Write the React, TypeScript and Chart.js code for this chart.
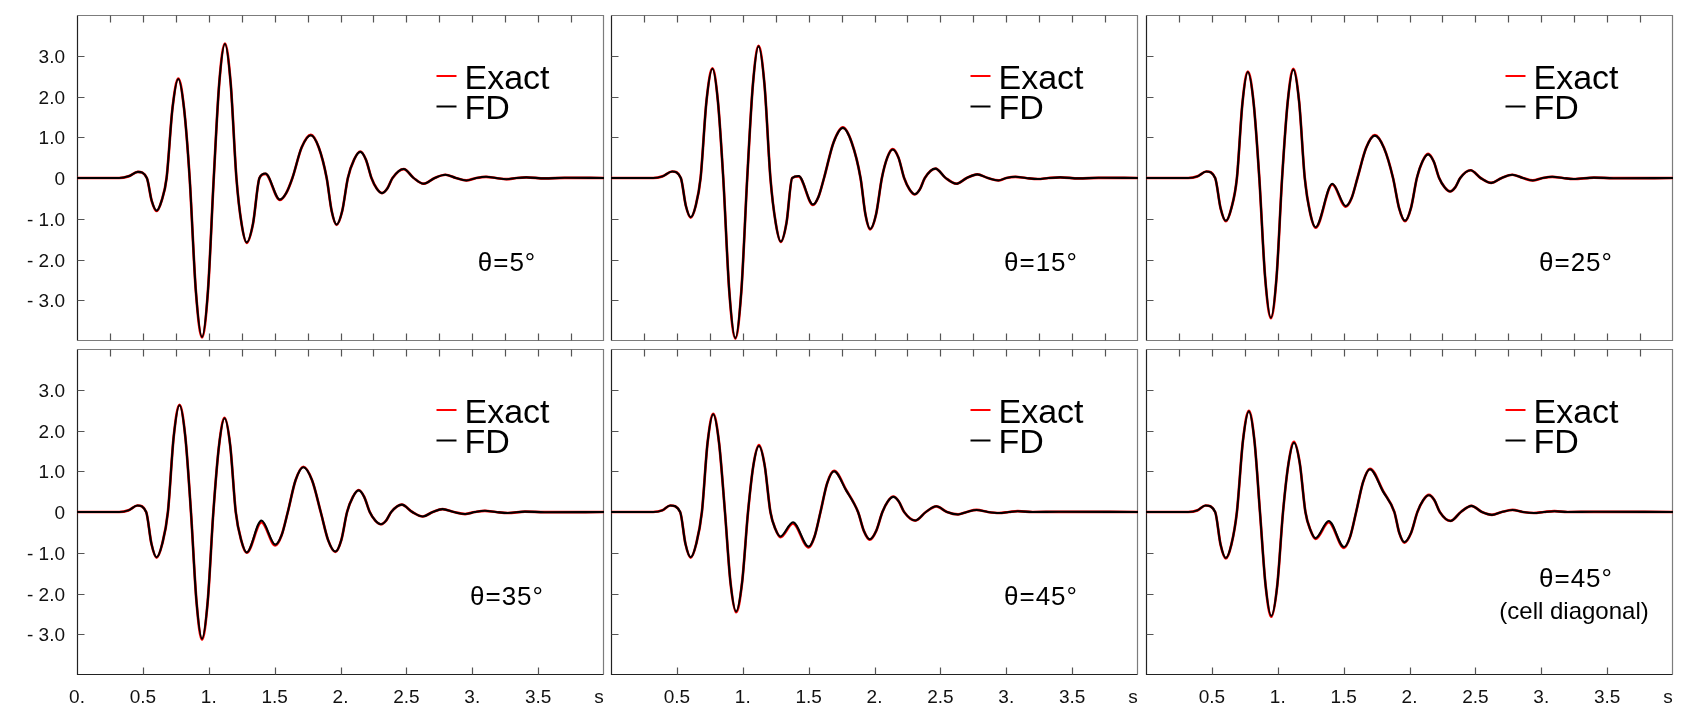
import React, { useEffect, useRef } from "react";
import { Chart, registerables } from "chart.js";
Chart.register(...registerables);

// ---------- tick labels / texts ----------
const xTickValues = [0, 0.5, 1, 1.5, 2, 2.5, 3, 3.5, 4];
const xTickLabels = ["0.", "0.5", "1.", "1.5", "2.", "2.5", "3.", "3.5", "s"];
const yTickValues = [3, 2, 1, 0, -1, -2, -3];
const yTickLabels = ["3.0", "2.0", "1.0", "0", "- 1.0", "- 2.0", "- 3.0"];
const seriesNames = ["Exact", "FD"];
const angleLabels = ["θ=5°", "θ=15°", "θ=25°", "θ=35°", "θ=45°", "θ=45°"];
const angleSubLabels = ["", "", "", "", "", "(cell diagonal)"];

// ---------- data (time in s, amplitude) ----------
const t5 = [0, 0.32, 0.39, 0.462, 0.53, 0.567, 0.604, 0.642, 0.68, 0.725, 0.769, 0.812, 0.855, 0.902, 0.949, 0.994, 1.038, 1.08, 1.123, 1.166, 1.21, 1.249, 1.288, 1.336, 1.385, 1.43, 1.54, 1.588, 1.635, 1.705, 1.775, 1.835, 1.895, 1.933, 1.97, 2.013, 2.056, 2.103, 2.15, 2.193, 2.235, 2.275, 2.315, 2.355, 2.395, 2.48, 2.555, 2.63, 2.715, 2.796, 2.875, 2.955, 3.03, 3.105, 3.18, 3.26, 3.335, 3.41, 3.55, 3.7, 4.0];
const fd5 = [0, 0, 0.04, 0.15, 0, -0.56, -0.8, -0.56, 0, 1.72, 2.43, 1.72, 0, -2.77, -3.9, -2.77, 0, 2.34, 3.29, 2.34, 0, -1.12, -1.58, -1.12, 0, 0.11, -0.53, -0.37, 0, 0.75, 1.05, 0.75, 0, -0.81, -1.14, -0.81, 0, 0.45, 0.64, 0.45, 0, -0.26, -0.37, -0.26, 0, 0.22, 0, -0.14, 0, 0.08, 0, -0.06, 0, 0.03, 0, -0.03, 0, 0.015, -0.01, 0.005, 0];
const exact5 = [0, 0, 0.04, 0.15, 0, -0.56, -0.81, -0.56, 0, 1.72, 2.44, 1.72, 0, -2.77, -3.91, -2.77, 0, 2.34, 3.3, 2.34, 0, -1.12, -1.59, -1.12, 0, 0.1, -0.54, -0.37, 0, 0.75, 1.06, 0.75, 0, -0.81, -1.15, -0.81, 0, 0.45, 0.65, 0.45, 0, -0.26, -0.37, -0.26, 0, 0.22, 0, -0.14, 0, 0.08, 0, -0.06, 0, 0.03, 0, -0.03, 0, 0.015, -0.01, 0.005, 0];

const t15 = [0, 0.32, 0.39, 0.464, 0.53, 0.568, 0.605, 0.643, 0.68, 0.725, 0.77, 0.811, 0.852, 0.898, 0.944, 0.989, 1.034, 1.077, 1.12, 1.165, 1.21, 1.25, 1.289, 1.332, 1.375, 1.424, 1.533, 1.575, 1.617, 1.689, 1.76, 1.827, 1.894, 1.931, 1.967, 2.012, 2.056, 2.097, 2.138, 2.182, 2.225, 2.266, 2.306, 2.344, 2.382, 2.463, 2.54, 2.62, 2.7, 2.78, 2.86, 2.94, 3.0, 3.07, 3.15, 3.24, 3.32, 3.41, 3.55, 3.7, 4.0];
const fd15 = [0, 0, 0.04, 0.16, 0, -0.68, -0.96, -0.68, 0, 1.9, 2.68, 1.9, 0, -2.79, -3.93, -2.79, 0, 2.29, 3.23, 2.29, 0, -1.1, -1.56, -1.1, 0, 0.05, -0.65, -0.46, 0, 0.87, 1.23, 0.87, 0, -0.89, -1.25, -0.89, 0, 0.5, 0.7, 0.5, 0, -0.28, -0.4, -0.28, 0, 0.23, 0, -0.14, 0, 0.09, 0, -0.06, 0, 0.03, 0, -0.025, 0, 0.015, -0.01, 0.005, 0];
const exact15 = [0, 0, 0.04, 0.16, 0, -0.68, -0.97, -0.68, 0, 1.9, 2.69, 1.9, 0, -2.79, -3.94, -2.79, 0, 2.29, 3.24, 2.29, 0, -1.1, -1.57, -1.1, 0, 0.04, -0.66, -0.46, 0, 0.87, 1.24, 0.87, 0, -0.89, -1.26, -0.89, 0, 0.5, 0.71, 0.5, 0, -0.28, -0.4, -0.28, 0, 0.23, 0, -0.14, 0, 0.09, 0, -0.06, 0, 0.03, 0, -0.025, 0, 0.015, -0.01, 0.005, 0];

const t25 = [0, 0.32, 0.39, 0.458, 0.525, 0.566, 0.606, 0.648, 0.69, 0.732, 0.773, 0.817, 0.86, 0.904, 0.948, 0.991, 1.033, 1.076, 1.118, 1.162, 1.205, 1.246, 1.287, 1.414, 1.516, 1.561, 1.605, 1.671, 1.737, 1.806, 1.875, 1.921, 1.966, 2.011, 2.056, 2.099, 2.141, 2.183, 2.225, 2.267, 2.308, 2.347, 2.385, 2.464, 2.54, 2.62, 2.7, 2.78, 2.86, 2.936, 3.01, 3.084, 3.165, 3.245, 3.4, 3.55, 4.0];
const fd25 = [0, 0, 0.04, 0.16, 0, -0.74, -1.05, -0.74, 0, 1.84, 2.6, 1.84, 0, -2.43, -3.43, -2.43, 0, 1.88, 2.66, 1.88, 0, -0.86, -1.21, -0.14, -0.69, -0.49, 0, 0.74, 1.04, 0.74, 0, -0.74, -1.05, -0.74, 0, 0.41, 0.58, 0.41, 0, -0.23, -0.33, -0.23, 0, 0.19, 0, -0.12, 0, 0.08, 0, -0.06, 0, 0.03, 0, -0.025, 0.01, -0.005, 0];
const exact25 = [0, 0, 0.04, 0.16, 0, -0.74, -1.06, -0.74, 0, 1.84, 2.61, 1.84, 0, -2.43, -3.44, -2.43, 0, 1.88, 2.68, 1.88, 0, -0.86, -1.22, -0.16, -0.7, -0.49, 0, 0.74, 1.05, 0.74, 0, -0.74, -1.06, -0.74, 0, 0.41, 0.59, 0.41, 0, -0.23, -0.33, -0.23, 0, 0.19, 0, -0.12, 0, 0.08, 0, -0.06, 0, 0.03, 0, -0.025, 0.01, -0.005, 0];

const t35 = [0, 0.32, 0.39, 0.459, 0.525, 0.565, 0.604, 0.647, 0.69, 0.734, 0.778, 0.822, 0.865, 0.907, 0.949, 0.992, 1.035, 1.078, 1.12, 1.163, 1.205, 1.247, 1.288, 1.4, 1.505, 1.553, 1.6, 1.659, 1.718, 1.784, 1.85, 1.906, 1.961, 2.006, 2.05, 2.094, 2.138, 2.18, 2.222, 2.264, 2.306, 2.346, 2.385, 2.465, 2.545, 2.625, 2.7, 2.775, 2.86, 2.946, 3.02, 3.096, 3.18, 3.27, 3.4, 3.55, 4.0];
const fd35 = [0, 0, 0.04, 0.16, 0, -0.78, -1.11, -0.78, 0, 1.85, 2.62, 1.85, 0, -2.2, -3.11, -2.2, 0, 1.63, 2.3, 1.63, 0, -0.7, -0.99, -0.21, -0.8, -0.57, 0, 0.78, 1.1, 0.78, 0, -0.69, -0.97, -0.69, 0, 0.37, 0.53, 0.37, 0, -0.21, -0.3, -0.21, 0, 0.18, 0, -0.11, 0, 0.07, 0, -0.05, 0, 0.03, 0, -0.025, 0.01, -0.005, 0];
const exact35 = [0, 0, 0.04, 0.16, 0, -0.78, -1.12, -0.78, 0, 1.85, 2.63, 1.85, 0, -2.2, -3.13, -2.2, 0, 1.63, 2.31, 1.63, 0, -0.7, -1.0, -0.25, -0.82, -0.57, 0, 0.78, 1.11, 0.78, 0, -0.69, -0.98, -0.69, 0, 0.37, 0.54, 0.37, 0, -0.21, -0.3, -0.21, 0, 0.18, 0, -0.11, 0, 0.07, 0, -0.05, 0, 0.03, 0, -0.025, 0.01, -0.005, 0];

const t45 = [0, 0.32, 0.39, 0.45, 0.525, 0.565, 0.605, 0.647, 0.69, 0.733, 0.776, 0.82, 0.865, 0.907, 0.95, 0.995, 1.04, 1.081, 1.123, 1.166, 1.21, 1.248, 1.286, 1.381, 1.5, 1.545, 1.59, 1.641, 1.693, 1.785, 1.875, 1.92, 1.964, 2.012, 2.06, 2.101, 2.143, 2.184, 2.225, 2.309, 2.39, 2.469, 2.55, 2.634, 2.7, 2.775, 2.86, 2.946, 3.02, 3.087, 3.2, 3.4, 4.0];
const fd45 = [0, 0, 0.04, 0.16, 0, -0.78, -1.11, -0.78, 0, 1.7, 2.4, 1.7, 0, -1.73, -2.44, -1.73, 0, 1.15, 1.62, 1.15, 0, -0.42, -0.6, -0.25, -0.85, -0.6, 0, 0.71, 1.0, 0.53, 0, -0.47, -0.67, -0.47, 0, 0.26, 0.37, 0.26, 0, -0.21, 0, 0.14, 0, -0.06, 0, 0.05, 0, -0.025, 0, 0.02, 0, 0.005, 0];
const exact45 = [0, 0, 0.04, 0.16, 0, -0.78, -1.12, -0.78, 0, 1.7, 2.41, 1.7, 0, -1.73, -2.46, -1.73, 0, 1.15, 1.64, 1.15, 0, -0.42, -0.62, -0.28, -0.87, -0.6, 0, 0.71, 1.01, 0.54, 0, -0.47, -0.68, -0.47, 0, 0.26, 0.38, 0.26, 0, -0.21, 0, 0.14, 0, -0.06, 0, 0.05, 0, -0.025, 0, 0.02, 0, 0.005, 0];

const t45d = [0, 0.32, 0.39, 0.452, 0.525, 0.566, 0.606, 0.648, 0.69, 0.736, 0.781, 0.823, 0.865, 0.908, 0.951, 0.996, 1.04, 1.082, 1.123, 1.167, 1.21, 1.249, 1.287, 1.387, 1.503, 1.549, 1.595, 1.648, 1.7, 1.8, 1.885, 1.923, 1.961, 2.011, 2.06, 2.104, 2.147, 2.189, 2.23, 2.311, 2.39, 2.47, 2.55, 2.626, 2.7, 2.782, 2.86, 2.944, 3.02, 3.1, 3.2, 3.4, 4.0];
const fd45d = [0, 0, 0.04, 0.16, 0, -0.8, -1.13, -0.8, 0, 1.75, 2.47, 1.75, 0, -1.81, -2.55, -1.81, 0, 1.2, 1.7, 1.2, 0, -0.45, -0.64, -0.22, -0.86, -0.61, 0, 0.74, 1.05, 0.5, 0, -0.52, -0.74, -0.52, 0, 0.29, 0.41, 0.29, 0, -0.22, 0, 0.15, 0, -0.07, 0, 0.05, 0, -0.025, 0, 0.02, 0, 0.005, 0];
const exact45d = [0, 0, 0.04, 0.16, 0, -0.8, -1.14, -0.8, 0, 1.75, 2.48, 1.75, 0, -1.81, -2.57, -1.81, 0, 1.2, 1.72, 1.2, 0, -0.45, -0.66, -0.25, -0.88, -0.61, 0, 0.74, 1.06, 0.51, 0, -0.52, -0.75, -0.52, 0, 0.29, 0.42, 0.29, 0, -0.22, 0, 0.15, 0, -0.07, 0, 0.05, 0, -0.025, 0, 0.02, 0, 0.005, 0];

const panelTimes = [t5, t15, t25, t35, t45, t45d];
const panelFD = [fd5, fd15, fd25, fd35, fd45, fd45d];
const panelExact = [exact5, exact15, exact25, exact35, exact45, exact45d];

// ---------- layout ----------
const PANEL_LEFT = [77, 611, 1146];
const PANEL_TOP = [15, 349];
const PANEL_W = 527;
const PANEL_H = 326;
const PAD = { left: 77, top: 15, right: 12, bottom: 37 };
const FONT = '"Liberation Sans", Arial, sans-serif';

function Panel({ index }: { index: number }) {
  const ref = useRef<HTMLCanvasElement | null>(null);
  const col = index % 3;
  const row = Math.floor(index / 3);
  const cw = PANEL_W + PAD.left + PAD.right;
  const ch = PANEL_H + PAD.top + PAD.bottom;

  useEffect(() => {
    const canvas = ref.current;
    if (!canvas) return;
    const t = panelTimes[index];
    const fd = panelFD[index];
    const ex = panelExact[index];

    const framePlugin = {
      id: "frame" + index,
      beforeDatasetsDraw(chart: any) {
        const { ctx, chartArea } = chart;
        const xs = chart.scales.x;
        const ys = chart.scales.y;
        const L = Math.round(chartArea.left) + 0.5;
        const R = Math.round(chartArea.right) - 0.5;
        const T = Math.round(chartArea.top) + 0.5;
        const B = Math.round(chartArea.bottom) - 0.5;
        ctx.save();
        ctx.lineWidth = 1.2;
        ctx.strokeStyle = "#7c7c7c";
        ctx.beginPath();
        ctx.moveTo(L, T); ctx.lineTo(R, T); ctx.lineTo(R, B);
        if (row === 0) ctx.lineTo(L, B);
        ctx.stroke();
        ctx.strokeStyle = "#222";
        ctx.beginPath();
        ctx.moveTo(L, T); ctx.lineTo(L, B);
        if (row === 1) ctx.lineTo(R, B);
        ctx.stroke();
        const tl = 7;
        ctx.strokeStyle = "#555";
        ctx.lineWidth = 1.2;
        ctx.beginPath();
        xs.ticks.forEach((tk: any) => {
          if (tk.value <= 0 || tk.value >= 4) return;
          const px = Math.round(xs.getPixelForValue(tk.value)) + 0.5;
          ctx.moveTo(px, T); ctx.lineTo(px, T + tl);
          const major = xTickValues.indexOf(tk.value) >= 0;
          if (row === 0 || major) {
            ctx.moveTo(px, B); ctx.lineTo(px, B - tl);
          }
        });
        yTickValues.forEach((v) => {
          const py = Math.round(ys.getPixelForValue(v)) + 0.5;
          ctx.moveTo(L, py); ctx.lineTo(L + tl, py);
        });
        ctx.stroke();
        ctx.restore();
      },
      afterDraw(chart: any) {
        const { ctx, chartArea } = chart;
        const xs = chart.scales.x;
        const ys = chart.scales.y;
        ctx.save();
        ctx.fillStyle = "#111";
        if (col === 0) {
          ctx.font = "19px " + FONT;
          ctx.textAlign = "right";
          ctx.textBaseline = "alphabetic";
          yTickValues.forEach((v, i) => {
            ctx.fillText(yTickLabels[i], chartArea.left - 12, ys.getPixelForValue(v) + 7);
          });
        }
        if (row === 1) {
          ctx.font = "19px " + FONT;
          ctx.textAlign = "center";
          ctx.textBaseline = "alphabetic";
          xTickValues.forEach((v, i) => {
            if (v === 0 && col !== 0) return;
            let px = xs.getPixelForValue(v);
            if (v === 4) px -= 5;
            ctx.fillText(xTickLabels[i], px, chartArea.bottom + 27.5);
          });
        }
        // legend
        const lx = chartArea.left + 359.5;
        const ly = [chartArea.top + 61, chartArea.top + 91.5];
        const lc = ["#ff0000", "#000000"];
        ctx.lineWidth = 2;
        for (let i = 0; i < 2; i++) {
          ctx.strokeStyle = lc[i];
          ctx.beginPath();
          ctx.moveTo(lx, ly[i]);
          ctx.lineTo(lx + 20, ly[i]);
          ctx.stroke();
        }
        ctx.font = "34px " + FONT;
        ctx.textAlign = "left";
        ctx.textBaseline = "alphabetic";
        ctx.fillStyle = "#000";
        ctx.fillText(seriesNames[0], lx + 28, chartArea.top + 73.5);
        ctx.fillText(seriesNames[1], lx + 28, chartArea.top + 103.5);
        // angle label
        ctx.font = "26px " + FONT;
        ctx.textAlign = "center";
        (ctx as any).letterSpacing = "1px";
        const cx = chartArea.left + 430;
        if (angleSubLabels[index]) {
          ctx.fillText(angleLabels[index], cx, chartArea.top + 238);
          (ctx as any).letterSpacing = "0px";
          ctx.font = "24px " + FONT;
          ctx.fillText(angleSubLabels[index], cx - 2, chartArea.top + 269.5);
        } else {
          ctx.fillText(angleLabels[index], cx, chartArea.top + 256);
        }
        ctx.restore();
      },
    };

    const chart = new Chart(canvas, {
      type: "line",
      data: {
        datasets: [
          {
            label: seriesNames[1],
            data: t.map((x, i) => ({ x, y: fd[i] })),
            borderColor: "#000000",
            borderWidth: 2.1,
            pointRadius: 0,
            cubicInterpolationMode: "monotone",
            fill: false,
            order: 0,
          },
          {
            label: seriesNames[0],
            data: t.map((x, i) => ({ x, y: ex[i] })),
            borderColor: "#ff0000",
            borderWidth: 2.7,
            pointRadius: 0,
            cubicInterpolationMode: "monotone",
            fill: false,
            order: 1,
          },
        ],
      },
      options: {
        animation: false,
        responsive: false,
        maintainAspectRatio: false,
        devicePixelRatio: 1,
        events: [],
        layout: { padding: PAD },
        plugins: { legend: { display: false }, tooltip: { enabled: false } },
        scales: {
          x: { type: "linear", min: 0, max: 4, display: false, ticks: { stepSize: 0.25 } },
          y: { type: "linear", min: -4, max: 4, display: false, ticks: { stepSize: 1 } },
        },
      },
      plugins: [framePlugin],
    } as any);
    return () => chart.destroy();
  }, [index]);

  return (
    <canvas
      ref={ref}
      width={cw}
      height={ch}
      style={{
        position: "absolute",
        left: PANEL_LEFT[col] - PAD.left,
        top: PANEL_TOP[row] - PAD.top,
        width: cw,
        height: ch,
      }}
    />
  );
}

export default function App() {
  return (
    <div
      style={{
        position: "absolute",
        left: 0,
        top: 0,
        width: 1686,
        height: 712,
        overflow: "hidden",
        background: "#ffffff",
      }}
    >
      {[0, 1, 2, 3, 4, 5].map((i) => (
        <Panel key={i} index={i} />
      ))}
    </div>
  );
}
